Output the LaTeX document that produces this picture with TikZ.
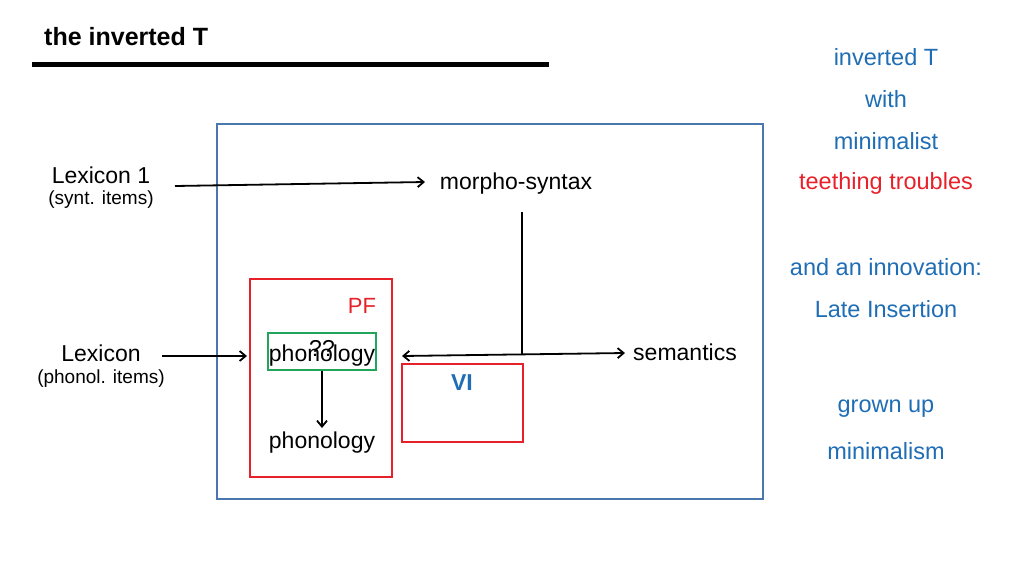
\documentclass[tikz,border=0pt]{standalone}
\usepackage{fontspec}
\setmainfont{Liberation Sans}
\usetikzlibrary{arrows.meta}
\definecolor{frameblue}{HTML}{4A78AE}
\definecolor{txtblue}{HTML}{1F6DB4}
\definecolor{pfred}{HTML}{E8202A}
\definecolor{grn}{HTML}{22A55A}
\begin{document}
\begin{tikzpicture}[x=1pt,y=-1pt,
  lbl/.style={font=\fontsize{23}{27}\selectfont, inner sep=0pt},
  sml/.style={font=\fontsize{19}{23}\selectfont, inner sep=0pt},
  rtxt/.style={font=\fontsize{23.5}{28}\selectfont, text=txtblue, inner sep=0pt},
  conn/.style={line width=1.8pt, -{Straight Barb[length=6pt,width=10pt]}},
  redbox/.style={draw=pfred, line width=1.8pt},
]
\useasboundingbox (0,0) rectangle (1024,576);
% title
\node[font=\bfseries\fontsize{25}{30}\selectfont, anchor=west, inner sep=0pt] (title) at (44,37) {the inverted T};
\draw[line width=5pt] (32,64) -- (549,64);
% main frame
\draw[frameblue, line width=1.8pt] (217,124) rectangle (763,499);
% left labels
\node[lbl] (lex1) at (101,175) {Lexicon 1};
\node[sml] (lex1s) at (101,200) {(synt. items)};
\node[lbl] (lex2) at (101,353) {Lexicon};
\node[sml] (lex2s) at (101,379) {(phonol. items)};
% morpho-syntax and semantics
\node[lbl] (ms) at (516,184) {morpho-syntax};
\node[lbl] (sem) at (685,352) {semantics};
% PF box
\node[redbox, minimum width=142pt, minimum height=198pt, inner sep=0pt] (pf) at (321,378) {};
\node[lbl, text=pfred, font=\fontsize{22}{26}\selectfont] (pflabel) at (362,306) {PF};
\node[draw=grn, line width=1.8pt, minimum width=108pt, minimum height=37pt, inner sep=0pt] (gbox) at (322,351.5) {};
\node[lbl] (ph1) at (322,356) {phonology};
\node[lbl] (qq) at (322,348) {??};
\node[lbl] (ph2) at (322,443) {phonology};
% VI box
\node[redbox, minimum width=121pt, minimum height=78pt, inner sep=0pt] (vi) at (462.5,403) {};
\node[font=\bfseries\fontsize{23}{27}\selectfont, text=txtblue, inner sep=0pt] (vilabel) at (462,383) {VI};
% connectors
\coordinate (a1s) at (175,186);
\coordinate (a1e) at (425,182);
\draw[conn] (a1s) -- (a1e);
\coordinate (a2s) at (162,356);
\coordinate (a2e) at (247,356);
\draw[conn] (a2s) -- (a2e);
\coordinate (vt) at (522,212);
\coordinate (vb) at (522,355);
\draw[line width=1.8pt] (vt) -- (vb);
\coordinate (hl) at (402,356);
\coordinate (hr) at (625,353);
\draw[line width=1.8pt, {Straight Barb[length=6pt,width=10pt]}-{Straight Barb[length=6pt,width=10pt]}] (hl) -- (hr);
\draw[conn] (gbox.south) -- (322,428);
% right column
\node[rtxt] (r1) at (886,57) {inverted T};
\node[rtxt] (r2) at (886,99) {with};
\node[rtxt] (r3) at (886,141) {minimalist};
\node[rtxt, text=pfred] (r4) at (886,183) {teething troubles};
\node[rtxt] (r5) at (886,267) {and an innovation:};
\node[rtxt] (r6) at (886,309) {Late Insertion};
\node[rtxt] (r7) at (886,409) {grown up};
\node[rtxt] (r8) at (886,451) {minimalism};
\end{tikzpicture}
\end{document}
